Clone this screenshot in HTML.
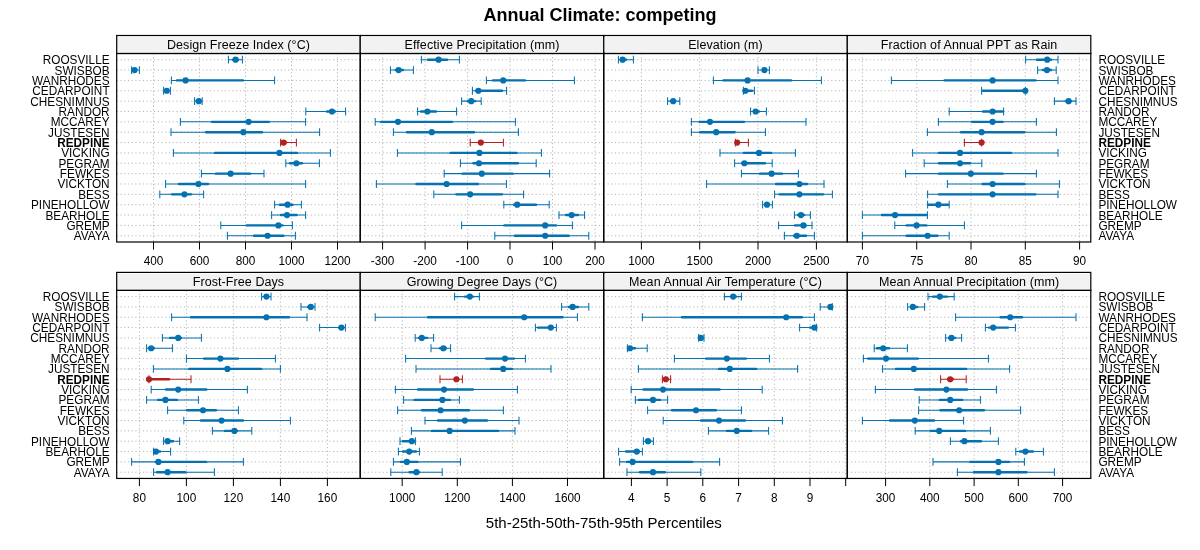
<!DOCTYPE html>
<html><head><meta charset="utf-8"><title>Annual Climate: competing</title>
<style>html,body{margin:0;padding:0;background:#fff}svg{display:block;will-change:transform}text{font-family:"Liberation Sans",sans-serif;fill:#000}</style></head><body>
<svg width="1200" height="550" viewBox="0 0 1200 550">
<rect width="1200" height="550" fill="#fff"/>
<text x="600" y="20.6" font-size="18" font-weight="bold" text-anchor="middle">Annual Climate: competing</text>
<text x="603.8" y="527.8" font-size="15" text-anchor="middle">5th-25th-50th-75th-95th Percentiles</text>
<text transform="translate(109.6 64) scale(1 1.1)" font-size="11.8" text-anchor="end">ROOSVILLE</text>
<text transform="translate(1098.4 64) scale(1 1.1)" font-size="11.8">ROOSVILLE</text>
<text transform="translate(109.6 75) scale(1 1.1)" font-size="11.8" text-anchor="end">SWISBOB</text>
<text transform="translate(1098.4 75) scale(1 1.1)" font-size="11.8">SWISBOB</text>
<text transform="translate(109.6 85) scale(1 1.1)" font-size="11.8" text-anchor="end">WANRHODES</text>
<text transform="translate(1098.4 85) scale(1 1.1)" font-size="11.8">WANRHODES</text>
<text transform="translate(109.6 95) scale(1 1.1)" font-size="11.8" text-anchor="end">CEDARPOINT</text>
<text transform="translate(1098.4 95) scale(1 1.1)" font-size="11.8">CEDARPOINT</text>
<text transform="translate(109.6 106) scale(1 1.1)" font-size="11.8" text-anchor="end">CHESNIMNUS</text>
<text transform="translate(1098.4 106) scale(1 1.1)" font-size="11.8">CHESNIMNUS</text>
<text transform="translate(109.6 116) scale(1 1.1)" font-size="11.8" text-anchor="end">RANDOR</text>
<text transform="translate(1098.4 116) scale(1 1.1)" font-size="11.8">RANDOR</text>
<text transform="translate(109.6 126) scale(1 1.1)" font-size="11.8" text-anchor="end">MCCAREY</text>
<text transform="translate(1098.4 126) scale(1 1.1)" font-size="11.8">MCCAREY</text>
<text transform="translate(109.6 137) scale(1 1.1)" font-size="11.8" text-anchor="end">JUSTESEN</text>
<text transform="translate(1098.4 137) scale(1 1.1)" font-size="11.8">JUSTESEN</text>
<text transform="translate(109.6 147) scale(1 1.1)" font-size="11.8" text-anchor="end" font-weight="bold">REDPINE</text>
<text transform="translate(1098.4 147) scale(1 1.1)" font-size="11.8" font-weight="bold">REDPINE</text>
<text transform="translate(109.6 157) scale(1 1.1)" font-size="11.8" text-anchor="end">VICKING</text>
<text transform="translate(1098.4 157) scale(1 1.1)" font-size="11.8">VICKING</text>
<text transform="translate(109.6 168) scale(1 1.1)" font-size="11.8" text-anchor="end">PEGRAM</text>
<text transform="translate(1098.4 168) scale(1 1.1)" font-size="11.8">PEGRAM</text>
<text transform="translate(109.6 178) scale(1 1.1)" font-size="11.8" text-anchor="end">FEWKES</text>
<text transform="translate(1098.4 178) scale(1 1.1)" font-size="11.8">FEWKES</text>
<text transform="translate(109.6 188) scale(1 1.1)" font-size="11.8" text-anchor="end">VICKTON</text>
<text transform="translate(1098.4 188) scale(1 1.1)" font-size="11.8">VICKTON</text>
<text transform="translate(109.6 199) scale(1 1.1)" font-size="11.8" text-anchor="end">BESS</text>
<text transform="translate(1098.4 199) scale(1 1.1)" font-size="11.8">BESS</text>
<text transform="translate(109.6 209) scale(1 1.1)" font-size="11.8" text-anchor="end">PINEHOLLOW</text>
<text transform="translate(1098.4 209) scale(1 1.1)" font-size="11.8">PINEHOLLOW</text>
<text transform="translate(109.6 220) scale(1 1.1)" font-size="11.8" text-anchor="end">BEARHOLE</text>
<text transform="translate(1098.4 220) scale(1 1.1)" font-size="11.8">BEARHOLE</text>
<text transform="translate(109.6 230) scale(1 1.1)" font-size="11.8" text-anchor="end">GREMP</text>
<text transform="translate(1098.4 230) scale(1 1.1)" font-size="11.8">GREMP</text>
<text transform="translate(109.6 240) scale(1 1.1)" font-size="11.8" text-anchor="end">AVAYA</text>
<text transform="translate(1098.4 240) scale(1 1.1)" font-size="11.8">AVAYA</text>
<rect x="116.7" y="37.1" width="243.52000000000004" height="14.90" fill="#F2F2F2"/><rect x="116.7" y="35.5" width="243.52" height="18.00" fill="none" stroke="#000" stroke-width="1.2"/>
<text x="238.46" y="48.90" font-size="12.5" letter-spacing="0.08" text-anchor="middle">Design Freeze Index (°C)</text>
<path d="M116.7 59.70H360.22M116.7 70.06H360.22M116.7 80.41H360.22M116.7 90.77H360.22M116.7 101.13H360.22M116.7 111.48H360.22M116.7 121.84H360.22M116.7 132.20H360.22M116.7 142.56H360.22M116.7 152.91H360.22M116.7 163.27H360.22M116.7 173.63H360.22M116.7 183.98H360.22M116.7 194.34H360.22M116.7 204.70H360.22M116.7 215.06H360.22M116.7 225.41H360.22M116.7 235.77H360.22M153.5 53.5V242.0M199.5 53.5V242.0M245.5 53.5V242.0M291.5 53.5V242.0M337.5 53.5V242.0" fill="none" stroke="#b4b4b4" stroke-width="1" stroke-dasharray="1.15 2.58"/>
<path d="M228.4 59.70H242.4M228.4 55.80V63.60M242.4 55.80V63.60M131.6 70.06H139.4M131.6 66.16V73.96M139.4 66.16V73.96M171.4 80.41H274.6M171.4 76.51V84.31M274.6 76.51V84.31M163.6 90.77H170.4M163.6 86.87V94.67M170.4 86.87V94.67M194.6 101.13H202.2M194.6 97.23V105.03M202.2 97.23V105.03M305.8 111.48H345.6M305.8 107.58V115.39M345.6 107.58V115.39M180.4 121.84H305.6M180.4 117.94V125.74M305.6 117.94V125.74M171 132.20H319.6M171 128.30V136.10M319.6 128.30V136.10M173.4 152.91H330.4M173.4 149.01V156.81M330.4 149.01V156.81M285.8 163.27H319.4M285.8 159.37V167.17M319.4 159.37V167.17M201.4 173.63H264M201.4 169.73V177.53M264 169.73V177.53M165.6 183.98H305.6M165.6 180.08V187.88M305.6 180.08V187.88M159.8 194.34H203.6M159.8 190.44V198.24M203.6 190.44V198.24M274.6 204.70H301.4M274.6 200.80V208.60M301.4 200.80V208.60M271.6 215.06H305.6M271.6 211.16V218.96M305.6 211.16V218.96M220.8 225.41H292.4M220.8 221.51V229.31M292.4 221.51V229.31M227.4 235.77H295.4M227.4 231.87V239.67M295.4 231.87V239.67" fill="none" stroke="#0571B0" stroke-width="1.05"/>
<path d="M233.00 59.70H238.00M134.00 70.06H135.00M177.00 80.41H243.00M166.00 90.77H167.50M198.00 101.13H199.50M327.00 111.48H335.00M212.00 121.84H269.00M206.00 132.20H262.00M215.00 152.91H297.00M290.00 163.27H302.00M216.00 173.63H250.00M179.00 183.98H208.00M172.00 194.34H191.00M280.00 204.70H292.60M281.00 215.06H296.60M246.60 225.41H282.60M254.00 235.77H283.40" fill="none" stroke="#0571B0" stroke-width="2.4" stroke-linecap="round"/>
<g fill="#0571B0"><circle cx="235.6" cy="59.70" r="3.1"/><circle cx="134.6" cy="70.06" r="3.1"/><circle cx="185.6" cy="80.41" r="3.1"/><circle cx="166.8" cy="90.77" r="3.1"/><circle cx="198.8" cy="101.13" r="3.1"/><circle cx="332" cy="111.48" r="3.1"/><circle cx="248.6" cy="121.84" r="3.1"/><circle cx="243.4" cy="132.20" r="3.1"/><circle cx="279.4" cy="152.91" r="3.1"/><circle cx="296.4" cy="163.27" r="3.1"/><circle cx="230.6" cy="173.63" r="3.1"/><circle cx="198.4" cy="183.98" r="3.1"/><circle cx="184.4" cy="194.34" r="3.1"/><circle cx="287.6" cy="204.70" r="3.1"/><circle cx="287" cy="215.06" r="3.1"/><circle cx="278.4" cy="225.41" r="3.1"/><circle cx="267.6" cy="235.77" r="3.1"/></g>
<path d="M280.6 142.56H296.4M280.6 138.66V146.46M296.4 138.66V146.46" fill="none" stroke="#B22222" stroke-width="1.05"/>
<path d="M282.50 142.56H286.00" fill="none" stroke="#B22222" stroke-width="2.4" stroke-linecap="round"/>
<g fill="#B22222"><circle cx="283.6" cy="142.56" r="3.1"/></g>
<rect x="116.7" y="53.5" width="243.52000000000004" height="188.5" fill="none" stroke="#000" stroke-width="1.2"/>
<text transform="translate(153.5 265.20) scale(1 1.1)" font-size="11.8" text-anchor="middle">400</text>
<text transform="translate(199.5 265.20) scale(1 1.1)" font-size="11.8" text-anchor="middle">600</text>
<text transform="translate(245.5 265.20) scale(1 1.1)" font-size="11.8" text-anchor="middle">800</text>
<text transform="translate(291.5 265.20) scale(1 1.1)" font-size="11.8" text-anchor="middle">1000</text>
<text transform="translate(337.5 265.20) scale(1 1.1)" font-size="11.8" text-anchor="middle">1200</text>
<path d="M153.5 242.0v7.6M199.5 242.0v7.6M245.5 242.0v7.6M291.5 242.0v7.6M337.5 242.0v7.6" fill="none" stroke="#000" stroke-width="1"/>
<rect x="360.22" y="37.1" width="243.52999999999997" height="14.90" fill="#F2F2F2"/><rect x="360.22" y="35.5" width="243.53" height="18.00" fill="none" stroke="#000" stroke-width="1.2"/>
<text x="481.99" y="48.90" font-size="12.5" letter-spacing="0.08" text-anchor="middle">Effective Precipitation (mm)</text>
<path d="M360.22 59.70H603.75M360.22 70.06H603.75M360.22 80.41H603.75M360.22 90.77H603.75M360.22 101.13H603.75M360.22 111.48H603.75M360.22 121.84H603.75M360.22 132.20H603.75M360.22 142.56H603.75M360.22 152.91H603.75M360.22 163.27H603.75M360.22 173.63H603.75M360.22 183.98H603.75M360.22 194.34H603.75M360.22 204.70H603.75M360.22 215.06H603.75M360.22 225.41H603.75M360.22 235.77H603.75M382.6 53.5V242.0M425.1 53.5V242.0M467.6 53.5V242.0M510.0 53.5V242.0M552.5 53.5V242.0M595.0 53.5V242.0" fill="none" stroke="#b4b4b4" stroke-width="1" stroke-dasharray="1.15 2.58"/>
<path d="M421.4 59.70H459.4M421.4 55.80V63.60M459.4 55.80V63.60M390.4 70.06H413.4M390.4 66.16V73.96M413.4 66.16V73.96M486.4 80.41H574.4M486.4 76.51V84.31M574.4 76.51V84.31M472.4 90.77H506.6M472.4 86.87V94.67M506.6 86.87V94.67M461.6 101.13H481.2M461.6 97.23V105.03M481.2 97.23V105.03M417.6 111.48H456.6M417.6 107.58V115.39M456.6 107.58V115.39M375.2 121.84H515.4M375.2 117.94V125.74M515.4 117.94V125.74M393.4 132.20H518.4M393.4 128.30V136.10M518.4 128.30V136.10M397.4 152.91H541.4M397.4 149.01V156.81M541.4 149.01V156.81M460.4 163.27H536.2M460.4 159.37V167.17M536.2 159.37V167.17M444.2 173.63H549.6M444.2 169.73V177.53M549.6 169.73V177.53M376.4 183.98H506.4M376.4 180.08V187.88M506.4 180.08V187.88M433.8 194.34H523.6M433.8 190.44V198.24M523.6 190.44V198.24M503.8 204.70H549.2M503.8 200.80V208.60M549.2 200.80V208.60M559 215.06H584.6M559 211.16V218.96M584.6 211.16V218.96M461.6 225.41H572.4M461.6 221.51V229.31M572.4 221.51V229.31M494.8 235.77H588.8M494.8 231.87V239.67M588.8 231.87V239.67" fill="none" stroke="#0571B0" stroke-width="1.05"/>
<path d="M428.00 59.70H447.00M396.00 70.06H403.00M493.00 80.41H525.00M476.00 90.77H502.00M468.00 101.13H475.00M421.00 111.48H436.00M381.00 121.84H452.00M407.00 132.20H474.00M450.60 152.91H516.40M473.40 163.27H518.00M462.60 173.63H512.60M416.40 183.98H478.00M456.40 194.34H502.00M514.00 204.70H536.00M566.00 215.06H578.00M504.40 225.41H556.00M515.00 235.77H568.60" fill="none" stroke="#0571B0" stroke-width="2.4" stroke-linecap="round"/>
<g fill="#0571B0"><circle cx="438.6" cy="59.70" r="3.1"/><circle cx="398.6" cy="70.06" r="3.1"/><circle cx="503.2" cy="80.41" r="3.1"/><circle cx="478.4" cy="90.77" r="3.1"/><circle cx="471.2" cy="101.13" r="3.1"/><circle cx="427.4" cy="111.48" r="3.1"/><circle cx="398" cy="121.84" r="3.1"/><circle cx="431.8" cy="132.20" r="3.1"/><circle cx="479.4" cy="152.91" r="3.1"/><circle cx="479" cy="163.27" r="3.1"/><circle cx="481.8" cy="173.63" r="3.1"/><circle cx="446.6" cy="183.98" r="3.1"/><circle cx="470.2" cy="194.34" r="3.1"/><circle cx="517.2" cy="204.70" r="3.1"/><circle cx="571.6" cy="215.06" r="3.1"/><circle cx="545.2" cy="225.41" r="3.1"/><circle cx="545.2" cy="235.77" r="3.1"/></g>
<path d="M470.2 142.56H503.4M470.2 138.66V146.46M503.4 138.66V146.46" fill="none" stroke="#B22222" stroke-width="1.05"/>
<path d="M480.00 142.56H482.00" fill="none" stroke="#B22222" stroke-width="2.4" stroke-linecap="round"/>
<g fill="#B22222"><circle cx="480.8" cy="142.56" r="3.1"/></g>
<rect x="360.22" y="53.5" width="243.52999999999997" height="188.5" fill="none" stroke="#000" stroke-width="1.2"/>
<text transform="translate(382.6 265.20) scale(1 1.1)" font-size="11.8" text-anchor="middle">-300</text>
<text transform="translate(425.1 265.20) scale(1 1.1)" font-size="11.8" text-anchor="middle">-200</text>
<text transform="translate(467.6 265.20) scale(1 1.1)" font-size="11.8" text-anchor="middle">-100</text>
<text transform="translate(510.0 265.20) scale(1 1.1)" font-size="11.8" text-anchor="middle">0</text>
<text transform="translate(552.5 265.20) scale(1 1.1)" font-size="11.8" text-anchor="middle">100</text>
<text transform="translate(595.0 265.20) scale(1 1.1)" font-size="11.8" text-anchor="middle">200</text>
<path d="M382.6 242.0v7.6M425.1 242.0v7.6M467.6 242.0v7.6M510.0 242.0v7.6M552.5 242.0v7.6M595.0 242.0v7.6" fill="none" stroke="#000" stroke-width="1"/>
<rect x="603.75" y="37.1" width="243.52999999999997" height="14.90" fill="#F2F2F2"/><rect x="603.75" y="35.5" width="243.53" height="18.00" fill="none" stroke="#000" stroke-width="1.2"/>
<text x="725.51" y="48.90" font-size="12.5" letter-spacing="0.08" text-anchor="middle">Elevation (m)</text>
<path d="M603.75 59.70H847.28M603.75 70.06H847.28M603.75 80.41H847.28M603.75 90.77H847.28M603.75 101.13H847.28M603.75 111.48H847.28M603.75 121.84H847.28M603.75 132.20H847.28M603.75 142.56H847.28M603.75 152.91H847.28M603.75 163.27H847.28M603.75 173.63H847.28M603.75 183.98H847.28M603.75 194.34H847.28M603.75 204.70H847.28M603.75 215.06H847.28M603.75 225.41H847.28M603.75 235.77H847.28M641.4 53.5V242.0M699.7 53.5V242.0M758.0 53.5V242.0M816.4 53.5V242.0" fill="none" stroke="#b4b4b4" stroke-width="1" stroke-dasharray="1.15 2.58"/>
<path d="M618.4 59.70H633.4M618.4 55.80V63.60M633.4 55.80V63.60M758 70.06H769.4M758 66.16V73.96M769.4 66.16V73.96M713.4 80.41H821.4M713.4 76.51V84.31M821.4 76.51V84.31M743.4 90.77H754.4M743.4 86.87V94.67M754.4 86.87V94.67M667.6 101.13H679.8M667.6 97.23V105.03M679.8 97.23V105.03M750.6 111.48H766.4M750.6 107.58V115.39M766.4 107.58V115.39M691.4 121.84H806M691.4 117.94V125.74M806 117.94V125.74M691.4 132.20H765.4M691.4 128.30V136.10M765.4 128.30V136.10M720 152.91H795.4M720 149.01V156.81M795.4 149.01V156.81M734.6 163.27H772.2M734.6 159.37V167.17M772.2 159.37V167.17M741.4 173.63H798.4M741.4 169.73V177.53M798.4 169.73V177.53M706.6 183.98H824M706.6 180.08V187.88M824 180.08V187.88M774.6 194.34H832.4M774.6 190.44V198.24M832.4 190.44V198.24M762.6 204.70H772.4M762.6 200.80V208.60M772.4 200.80V208.60M794.4 215.06H810.4M794.4 211.16V218.96M810.4 211.16V218.96M778.6 225.41H812M778.6 221.51V229.31M812 221.51V229.31M784.4 235.77H814.4M784.4 231.87V239.67M814.4 231.87V239.67" fill="none" stroke="#0571B0" stroke-width="1.05"/>
<path d="M621.00 59.70H626.00M763.00 70.06H766.00M723.40 80.41H791.00M745.00 90.77H752.00M671.00 101.13H675.00M754.00 111.48H759.00M699.60 121.84H744.00M700.00 132.20H734.60M744.00 152.91H771.00M742.00 163.27H765.00M760.00 173.63H782.00M776.00 183.98H807.00M779.60 194.34H823.00M765.40 204.70H769.00M798.00 215.06H804.00M795.00 225.41H806.00M794.00 235.77H806.00" fill="none" stroke="#0571B0" stroke-width="2.4" stroke-linecap="round"/>
<g fill="#0571B0"><circle cx="622.6" cy="59.70" r="3.1"/><circle cx="764.4" cy="70.06" r="3.1"/><circle cx="747.6" cy="80.41" r="3.1"/><circle cx="745.4" cy="90.77" r="3.1"/><circle cx="673.2" cy="101.13" r="3.1"/><circle cx="755.6" cy="111.48" r="3.1"/><circle cx="710" cy="121.84" r="3.1"/><circle cx="716.2" cy="132.20" r="3.1"/><circle cx="759" cy="152.91" r="3.1"/><circle cx="744.4" cy="163.27" r="3.1"/><circle cx="771.6" cy="173.63" r="3.1"/><circle cx="799.4" cy="183.98" r="3.1"/><circle cx="799.4" cy="194.34" r="3.1"/><circle cx="767" cy="204.70" r="3.1"/><circle cx="801" cy="215.06" r="3.1"/><circle cx="803.4" cy="225.41" r="3.1"/><circle cx="796.8" cy="235.77" r="3.1"/></g>
<path d="M735.4 142.56H748.4M735.4 138.66V146.46M748.4 138.66V146.46" fill="none" stroke="#B22222" stroke-width="1.05"/>
<path d="M737.00 142.56H739.00" fill="none" stroke="#B22222" stroke-width="2.4" stroke-linecap="round"/>
<g fill="#B22222"><circle cx="737.2" cy="142.56" r="3.1"/></g>
<rect x="603.75" y="53.5" width="243.52999999999997" height="188.5" fill="none" stroke="#000" stroke-width="1.2"/>
<text transform="translate(641.4 265.20) scale(1 1.1)" font-size="11.8" text-anchor="middle">1000</text>
<text transform="translate(699.7 265.20) scale(1 1.1)" font-size="11.8" text-anchor="middle">1500</text>
<text transform="translate(758.0 265.20) scale(1 1.1)" font-size="11.8" text-anchor="middle">2000</text>
<text transform="translate(816.4 265.20) scale(1 1.1)" font-size="11.8" text-anchor="middle">2500</text>
<path d="M641.4 242.0v7.6M699.7 242.0v7.6M758.0 242.0v7.6M816.4 242.0v7.6" fill="none" stroke="#000" stroke-width="1"/>
<rect x="847.28" y="37.1" width="243.51999999999998" height="14.90" fill="#F2F2F2"/><rect x="847.28" y="35.5" width="243.52" height="18.00" fill="none" stroke="#000" stroke-width="1.2"/>
<text x="969.04" y="48.90" font-size="12.5" letter-spacing="0.08" text-anchor="middle">Fraction of Annual PPT as Rain</text>
<path d="M847.28 59.70H1090.8M847.28 70.06H1090.8M847.28 80.41H1090.8M847.28 90.77H1090.8M847.28 101.13H1090.8M847.28 111.48H1090.8M847.28 121.84H1090.8M847.28 132.20H1090.8M847.28 142.56H1090.8M847.28 152.91H1090.8M847.28 163.27H1090.8M847.28 173.63H1090.8M847.28 183.98H1090.8M847.28 194.34H1090.8M847.28 204.70H1090.8M847.28 215.06H1090.8M847.28 225.41H1090.8M847.28 235.77H1090.8M862.4 53.5V242.0M916.7 53.5V242.0M971.0 53.5V242.0M1025.3 53.5V242.0M1079.6 53.5V242.0" fill="none" stroke="#b4b4b4" stroke-width="1" stroke-dasharray="1.15 2.58"/>
<path d="M1025.6 59.70H1058M1025.6 55.80V63.60M1058 55.80V63.60M1037.6 70.06H1056.2M1037.6 66.16V73.96M1056.2 66.16V73.96M891.4 80.41H1058M891.4 76.51V84.31M1058 76.51V84.31M981.6 90.77H1025.4M981.6 86.87V94.67M1025.4 86.87V94.67M1054.4 101.13H1076M1054.4 97.23V105.03M1076 97.23V105.03M949.2 111.48H1003.6M949.2 107.58V115.39M1003.6 107.58V115.39M938.4 121.84H1036.4M938.4 117.94V125.74M1036.4 117.94V125.74M927.4 132.20H1056.4M927.4 128.30V136.10M1056.4 128.30V136.10M912.6 152.91H1058M912.6 149.01V156.81M1058 149.01V156.81M924.2 163.27H981.8M924.2 159.37V167.17M981.8 159.37V167.17M905.6 173.63H1036.4M905.6 169.73V177.53M1036.4 169.73V177.53M947.4 183.98H1059.4M947.4 180.08V187.88M1059.4 180.08V187.88M927.6 194.34H1058M927.6 190.44V198.24M1058 190.44V198.24M927.6 204.70H949.2M927.6 200.80V208.60M949.2 200.80V208.60M862.4 215.06H927.4M862.4 211.16V218.96M927.4 211.16V218.96M894.8 225.41H964.4M894.8 221.51V229.31M964.4 221.51V229.31M862.4 235.77H949.2M862.4 231.87V239.67M949.2 231.87V239.67" fill="none" stroke="#0571B0" stroke-width="1.05"/>
<path d="M1037.00 59.70H1051.00M1043.00 70.06H1051.00M944.60 80.41H1035.60M983.00 90.77H1024.40M1066.00 101.13H1071.00M983.00 111.48H1002.60M972.00 121.84H1002.60M961.00 132.20H1024.40M939.00 152.91H1011.00M939.00 163.27H970.00M939.00 173.63H1002.60M982.60 183.98H1024.40M939.00 194.34H1035.40M928.60 204.70H948.20M882.00 215.06H926.40M906.60 225.41H926.40M906.60 235.77H937.40" fill="none" stroke="#0571B0" stroke-width="2.4" stroke-linecap="round"/>
<g fill="#0571B0"><circle cx="1047.2" cy="59.70" r="3.1"/><circle cx="1047" cy="70.06" r="3.1"/><circle cx="992.6" cy="80.41" r="3.1"/><circle cx="1025.4" cy="90.77" r="3.1"/><circle cx="1068.6" cy="101.13" r="3.1"/><circle cx="992.6" cy="111.48" r="3.1"/><circle cx="992.6" cy="121.84" r="3.1"/><circle cx="981.6" cy="132.20" r="3.1"/><circle cx="960" cy="152.91" r="3.1"/><circle cx="960" cy="163.27" r="3.1"/><circle cx="970.8" cy="173.63" r="3.1"/><circle cx="992.6" cy="183.98" r="3.1"/><circle cx="992.6" cy="194.34" r="3.1"/><circle cx="938.4" cy="204.70" r="3.1"/><circle cx="895" cy="215.06" r="3.1"/><circle cx="916.6" cy="225.41" r="3.1"/><circle cx="927.6" cy="235.77" r="3.1"/></g>
<path d="M964.4 142.56H981.6M964.4 138.66V146.46M981.6 138.66V146.46" fill="none" stroke="#B22222" stroke-width="1.05"/>
<g fill="#B22222"><circle cx="981.6" cy="142.56" r="3.1"/></g>
<rect x="847.28" y="53.5" width="243.51999999999998" height="188.5" fill="none" stroke="#000" stroke-width="1.2"/>
<text transform="translate(862.4 265.20) scale(1 1.1)" font-size="11.8" text-anchor="middle">70</text>
<text transform="translate(916.7 265.20) scale(1 1.1)" font-size="11.8" text-anchor="middle">75</text>
<text transform="translate(971.0 265.20) scale(1 1.1)" font-size="11.8" text-anchor="middle">80</text>
<text transform="translate(1025.3 265.20) scale(1 1.1)" font-size="11.8" text-anchor="middle">85</text>
<text transform="translate(1079.6 265.20) scale(1 1.1)" font-size="11.8" text-anchor="middle">90</text>
<path d="M862.4 242.0v7.6M916.7 242.0v7.6M971.0 242.0v7.6M1025.3 242.0v7.6M1079.6 242.0v7.6" fill="none" stroke="#000" stroke-width="1"/>
<text transform="translate(109.6 301) scale(1 1.1)" font-size="11.8" text-anchor="end">ROOSVILLE</text>
<text transform="translate(1098.4 301) scale(1 1.1)" font-size="11.8">ROOSVILLE</text>
<text transform="translate(109.6 311) scale(1 1.1)" font-size="11.8" text-anchor="end">SWISBOB</text>
<text transform="translate(1098.4 311) scale(1 1.1)" font-size="11.8">SWISBOB</text>
<text transform="translate(109.6 322) scale(1 1.1)" font-size="11.8" text-anchor="end">WANRHODES</text>
<text transform="translate(1098.4 322) scale(1 1.1)" font-size="11.8">WANRHODES</text>
<text transform="translate(109.6 332) scale(1 1.1)" font-size="11.8" text-anchor="end">CEDARPOINT</text>
<text transform="translate(1098.4 332) scale(1 1.1)" font-size="11.8">CEDARPOINT</text>
<text transform="translate(109.6 342) scale(1 1.1)" font-size="11.8" text-anchor="end">CHESNIMNUS</text>
<text transform="translate(1098.4 342) scale(1 1.1)" font-size="11.8">CHESNIMNUS</text>
<text transform="translate(109.6 353) scale(1 1.1)" font-size="11.8" text-anchor="end">RANDOR</text>
<text transform="translate(1098.4 353) scale(1 1.1)" font-size="11.8">RANDOR</text>
<text transform="translate(109.6 363) scale(1 1.1)" font-size="11.8" text-anchor="end">MCCAREY</text>
<text transform="translate(1098.4 363) scale(1 1.1)" font-size="11.8">MCCAREY</text>
<text transform="translate(109.6 373) scale(1 1.1)" font-size="11.8" text-anchor="end">JUSTESEN</text>
<text transform="translate(1098.4 373) scale(1 1.1)" font-size="11.8">JUSTESEN</text>
<text transform="translate(109.6 384) scale(1 1.1)" font-size="11.8" text-anchor="end" font-weight="bold">REDPINE</text>
<text transform="translate(1098.4 384) scale(1 1.1)" font-size="11.8" font-weight="bold">REDPINE</text>
<text transform="translate(109.6 394) scale(1 1.1)" font-size="11.8" text-anchor="end">VICKING</text>
<text transform="translate(1098.4 394) scale(1 1.1)" font-size="11.8">VICKING</text>
<text transform="translate(109.6 404) scale(1 1.1)" font-size="11.8" text-anchor="end">PEGRAM</text>
<text transform="translate(1098.4 404) scale(1 1.1)" font-size="11.8">PEGRAM</text>
<text transform="translate(109.6 415) scale(1 1.1)" font-size="11.8" text-anchor="end">FEWKES</text>
<text transform="translate(1098.4 415) scale(1 1.1)" font-size="11.8">FEWKES</text>
<text transform="translate(109.6 425) scale(1 1.1)" font-size="11.8" text-anchor="end">VICKTON</text>
<text transform="translate(1098.4 425) scale(1 1.1)" font-size="11.8">VICKTON</text>
<text transform="translate(109.6 435) scale(1 1.1)" font-size="11.8" text-anchor="end">BESS</text>
<text transform="translate(1098.4 435) scale(1 1.1)" font-size="11.8">BESS</text>
<text transform="translate(109.6 446) scale(1 1.1)" font-size="11.8" text-anchor="end">PINEHOLLOW</text>
<text transform="translate(1098.4 446) scale(1 1.1)" font-size="11.8">PINEHOLLOW</text>
<text transform="translate(109.6 456) scale(1 1.1)" font-size="11.8" text-anchor="end">BEARHOLE</text>
<text transform="translate(1098.4 456) scale(1 1.1)" font-size="11.8">BEARHOLE</text>
<text transform="translate(109.6 466) scale(1 1.1)" font-size="11.8" text-anchor="end">GREMP</text>
<text transform="translate(1098.4 466) scale(1 1.1)" font-size="11.8">GREMP</text>
<text transform="translate(109.6 477) scale(1 1.1)" font-size="11.8" text-anchor="end">AVAYA</text>
<text transform="translate(1098.4 477) scale(1 1.1)" font-size="11.8">AVAYA</text>
<rect x="116.7" y="274.0" width="243.52000000000004" height="14.90" fill="#F2F2F2"/><rect x="116.7" y="272.4" width="243.52" height="18.00" fill="none" stroke="#000" stroke-width="1.2"/>
<text x="238.46" y="285.80" font-size="12.5" letter-spacing="0.08" text-anchor="middle">Frost-Free Days</text>
<path d="M116.7 296.60H360.22M116.7 306.93H360.22M116.7 317.26H360.22M116.7 327.59H360.22M116.7 337.92H360.22M116.7 348.25H360.22M116.7 358.58H360.22M116.7 368.91H360.22M116.7 379.24H360.22M116.7 389.57H360.22M116.7 399.90H360.22M116.7 410.23H360.22M116.7 420.56H360.22M116.7 430.89H360.22M116.7 441.22H360.22M116.7 451.55H360.22M116.7 461.88H360.22M116.7 472.21H360.22M139.4 290.4V478.45M186.4 290.4V478.45M233.4 290.4V478.45M280.4 290.4V478.45M327.4 290.4V478.45" fill="none" stroke="#b4b4b4" stroke-width="1" stroke-dasharray="1.15 2.58"/>
<path d="M261.6 296.60H271M261.6 292.70V300.50M271 292.70V300.50M301 306.93H315M301 303.03V310.83M315 303.03V310.83M171.6 317.26H307M171.6 313.36V321.16M307 313.36V321.16M319.6 327.59H345.4M319.6 323.69V331.49M345.4 323.69V331.49M162.4 337.92H201.4M162.4 334.02V341.82M201.4 334.02V341.82M146.6 348.25H172.4M146.6 344.35V352.15M172.4 344.35V352.15M186.4 358.58H275.4M186.4 354.68V362.48M275.4 354.68V362.48M153.4 368.91H280.4M153.4 365.01V372.81M280.4 365.01V372.81M151.2 389.57H247.4M151.2 385.67V393.47M247.4 385.67V393.47M146.6 399.90H198.4M146.6 396.00V403.80M198.4 396.00V403.80M167.6 410.23H238.4M167.6 406.33V414.13M238.4 406.33V414.13M183.8 420.56H290.4M183.8 416.66V424.46M290.4 416.66V424.46M212.4 430.89H251.8M212.4 426.99V434.79M251.8 426.99V434.79M163.6 441.22H179.6M163.6 437.32V445.12M179.6 437.32V445.12M153.6 451.55H170.6M153.6 447.65V455.45M170.6 447.65V455.45M131.6 461.88H243.4M131.6 457.98V465.78M243.4 457.98V465.78M153.6 472.21H214.4M153.6 468.31V476.11M214.4 468.31V476.11" fill="none" stroke="#0571B0" stroke-width="1.05"/>
<path d="M265.00 296.60H268.00M308.00 306.93H312.60M191.00 317.26H289.00M339.00 327.59H343.00M170.00 337.92H181.00M149.00 348.25H154.00M204.00 358.58H238.00M189.40 368.91H261.00M166.00 389.57H206.40M158.00 399.90H177.00M187.00 410.23H216.00M201.00 420.56H243.00M225.00 430.89H237.00M166.00 441.22H173.00M155.00 451.55H160.00M156.00 461.88H206.00M157.00 472.21H185.40" fill="none" stroke="#0571B0" stroke-width="2.4" stroke-linecap="round"/>
<g fill="#0571B0"><circle cx="266.4" cy="296.60" r="3.1"/><circle cx="310.8" cy="306.93" r="3.1"/><circle cx="266.4" cy="317.26" r="3.1"/><circle cx="341.4" cy="327.59" r="3.1"/><circle cx="178.2" cy="337.92" r="3.1"/><circle cx="151.2" cy="348.25" r="3.1"/><circle cx="220.4" cy="358.58" r="3.1"/><circle cx="227.4" cy="368.91" r="3.1"/><circle cx="178.2" cy="389.57" r="3.1"/><circle cx="165.4" cy="399.90" r="3.1"/><circle cx="203" cy="410.23" r="3.1"/><circle cx="221.6" cy="420.56" r="3.1"/><circle cx="234.4" cy="430.89" r="3.1"/><circle cx="167.6" cy="441.22" r="3.1"/><circle cx="156" cy="451.55" r="3.1"/><circle cx="158.4" cy="461.88" r="3.1"/><circle cx="167.6" cy="472.21" r="3.1"/></g>
<path d="M149 379.24H191M149 375.34V383.14M191 375.34V383.14" fill="none" stroke="#B22222" stroke-width="1.05"/>
<path d="M150.00 379.24H169.00" fill="none" stroke="#B22222" stroke-width="2.4" stroke-linecap="round"/>
<g fill="#B22222"><circle cx="149" cy="379.24" r="3.1"/></g>
<rect x="116.7" y="290.4" width="243.52000000000004" height="188.05" fill="none" stroke="#000" stroke-width="1.2"/>
<text transform="translate(139.4 501.65) scale(1 1.1)" font-size="11.8" text-anchor="middle">80</text>
<text transform="translate(186.4 501.65) scale(1 1.1)" font-size="11.8" text-anchor="middle">100</text>
<text transform="translate(233.4 501.65) scale(1 1.1)" font-size="11.8" text-anchor="middle">120</text>
<text transform="translate(280.4 501.65) scale(1 1.1)" font-size="11.8" text-anchor="middle">140</text>
<text transform="translate(327.4 501.65) scale(1 1.1)" font-size="11.8" text-anchor="middle">160</text>
<path d="M139.4 478.45v7.6M186.4 478.45v7.6M233.4 478.45v7.6M280.4 478.45v7.6M327.4 478.45v7.6" fill="none" stroke="#000" stroke-width="1"/>
<rect x="360.22" y="274.0" width="243.52999999999997" height="14.90" fill="#F2F2F2"/><rect x="360.22" y="272.4" width="243.53" height="18.00" fill="none" stroke="#000" stroke-width="1.2"/>
<text x="481.99" y="285.80" font-size="12.5" letter-spacing="0.08" text-anchor="middle">Growing Degree Days (°C)</text>
<path d="M360.22 296.60H603.75M360.22 306.93H603.75M360.22 317.26H603.75M360.22 327.59H603.75M360.22 337.92H603.75M360.22 348.25H603.75M360.22 358.58H603.75M360.22 368.91H603.75M360.22 379.24H603.75M360.22 389.57H603.75M360.22 399.90H603.75M360.22 410.23H603.75M360.22 420.56H603.75M360.22 430.89H603.75M360.22 441.22H603.75M360.22 451.55H603.75M360.22 461.88H603.75M360.22 472.21H603.75M402.2 290.4V478.45M457.3 290.4V478.45M512.4 290.4V478.45M567.5 290.4V478.45" fill="none" stroke="#b4b4b4" stroke-width="1" stroke-dasharray="1.15 2.58"/>
<path d="M454.6 296.60H479.4M454.6 292.70V300.50M479.4 292.70V300.50M561.6 306.93H588.8M561.6 303.03V310.83M588.8 303.03V310.83M375.2 317.26H577.4M375.2 313.36V321.16M577.4 313.36V321.16M535.4 327.59H556.4M535.4 323.69V331.49M556.4 323.69V331.49M415.2 337.92H433.6M415.2 334.02V341.82M433.6 334.02V341.82M431 348.25H450.6M431 344.35V352.15M450.6 344.35V352.15M405.6 358.58H525.4M405.6 354.68V362.48M525.4 354.68V362.48M416 368.91H551M416 365.01V372.81M551 365.01V372.81M395.4 389.57H517.4M395.4 385.67V393.47M517.4 385.67V393.47M403.6 399.90H459.4M403.6 396.00V403.80M459.4 396.00V403.80M397.6 410.23H503.4M397.6 406.33V414.13M503.4 406.33V414.13M425 420.56H519M425 416.66V424.46M519 416.66V424.46M411.4 430.89H515M411.4 426.99V434.79M515 426.99V434.79M400 441.22H415.4M400 437.32V445.12M415.4 437.32V445.12M398.4 451.55H419.4M398.4 447.65V455.45M419.4 447.65V455.45M393.4 461.88H460.4M393.4 457.98V465.78M460.4 457.98V465.78M390.8 472.21H442.2M390.8 468.31V476.11M442.2 468.31V476.11" fill="none" stroke="#0571B0" stroke-width="1.05"/>
<path d="M465.00 296.60H473.00M569.00 306.93H578.00M428.00 317.26H562.60M538.00 327.59H553.00M419.00 337.92H427.00M440.00 348.25H446.00M486.00 358.58H514.00M491.00 368.91H512.00M418.00 389.57H473.00M414.60 399.90H450.00M422.00 410.23H469.00M438.00 420.56H487.00M432.00 430.89H498.00M403.00 441.22H414.00M403.00 451.55H416.00M401.00 461.88H417.40M409.60 472.21H419.00" fill="none" stroke="#0571B0" stroke-width="2.4" stroke-linecap="round"/>
<g fill="#0571B0"><circle cx="469.8" cy="296.60" r="3.1"/><circle cx="572.6" cy="306.93" r="3.1"/><circle cx="524.2" cy="317.26" r="3.1"/><circle cx="550.8" cy="327.59" r="3.1"/><circle cx="421.8" cy="337.92" r="3.1"/><circle cx="443.4" cy="348.25" r="3.1"/><circle cx="505" cy="358.58" r="3.1"/><circle cx="503.2" cy="368.91" r="3.1"/><circle cx="444" cy="389.57" r="3.1"/><circle cx="442.4" cy="399.90" r="3.1"/><circle cx="440.6" cy="410.23" r="3.1"/><circle cx="464.8" cy="420.56" r="3.1"/><circle cx="449.6" cy="430.89" r="3.1"/><circle cx="411.8" cy="441.22" r="3.1"/><circle cx="409.2" cy="451.55" r="3.1"/><circle cx="406.8" cy="461.88" r="3.1"/><circle cx="416.4" cy="472.21" r="3.1"/></g>
<path d="M440 379.24H462.4M440 375.34V383.14M462.4 375.34V383.14" fill="none" stroke="#B22222" stroke-width="1.05"/>
<path d="M455.00 379.24H458.00" fill="none" stroke="#B22222" stroke-width="2.4" stroke-linecap="round"/>
<g fill="#B22222"><circle cx="456.4" cy="379.24" r="3.1"/></g>
<rect x="360.22" y="290.4" width="243.52999999999997" height="188.05" fill="none" stroke="#000" stroke-width="1.2"/>
<text transform="translate(402.2 501.65) scale(1 1.1)" font-size="11.8" text-anchor="middle">1000</text>
<text transform="translate(457.3 501.65) scale(1 1.1)" font-size="11.8" text-anchor="middle">1200</text>
<text transform="translate(512.4 501.65) scale(1 1.1)" font-size="11.8" text-anchor="middle">1400</text>
<text transform="translate(567.5 501.65) scale(1 1.1)" font-size="11.8" text-anchor="middle">1600</text>
<path d="M402.2 478.45v7.6M457.3 478.45v7.6M512.4 478.45v7.6M567.5 478.45v7.6" fill="none" stroke="#000" stroke-width="1"/>
<rect x="603.75" y="274.0" width="243.52999999999997" height="14.90" fill="#F2F2F2"/><rect x="603.75" y="272.4" width="243.53" height="18.00" fill="none" stroke="#000" stroke-width="1.2"/>
<text x="725.51" y="285.80" font-size="12.5" letter-spacing="0.08" text-anchor="middle">Mean Annual Air Temperature (°C)</text>
<path d="M603.75 296.60H847.28M603.75 306.93H847.28M603.75 317.26H847.28M603.75 327.59H847.28M603.75 337.92H847.28M603.75 348.25H847.28M603.75 358.58H847.28M603.75 368.91H847.28M603.75 379.24H847.28M603.75 389.57H847.28M603.75 399.90H847.28M603.75 410.23H847.28M603.75 420.56H847.28M603.75 430.89H847.28M603.75 441.22H847.28M603.75 451.55H847.28M603.75 461.88H847.28M603.75 472.21H847.28M631.4 290.4V478.45M667.1 290.4V478.45M702.8 290.4V478.45M738.6 290.4V478.45M774.3 290.4V478.45M810.0 290.4V478.45M845.7 290.4V478.45" fill="none" stroke="#b4b4b4" stroke-width="1" stroke-dasharray="1.15 2.58"/>
<path d="M724.4 296.60H741.4M724.4 292.70V300.50M741.4 292.70V300.50M820.2 306.93H832.2M820.2 303.03V310.83M832.2 303.03V310.83M642.4 317.26H814.4M642.4 313.36V321.16M814.4 313.36V321.16M799.6 327.59H816.6M799.6 323.69V331.49M816.6 323.69V331.49M698.6 337.92H704M698.6 334.02V341.82M704 334.02V341.82M627.4 348.25H647.2M627.4 344.35V352.15M647.2 344.35V352.15M674.4 358.58H769.4M674.4 354.68V362.48M769.4 354.68V362.48M638.4 368.91H797.6M638.4 365.01V372.81M797.6 365.01V372.81M631.2 389.57H762.2M631.2 385.67V393.47M762.2 385.67V393.47M635.4 399.90H667.6M635.4 396.00V403.80M667.6 396.00V403.80M647.6 410.23H741.4M647.6 406.33V414.13M741.4 406.33V414.13M663.2 420.56H782.4M663.2 416.66V424.46M782.4 416.66V424.46M708.4 430.89H768.6M708.4 426.99V434.79M768.6 426.99V434.79M643.4 441.22H653.4M643.4 437.32V445.12M653.4 437.32V445.12M618.6 451.55H642.4M618.6 447.65V455.45M642.4 447.65V455.45M619.6 461.88H719.6M619.6 457.98V465.78M719.6 457.98V465.78M627 472.21H700.8M627 468.31V476.11M700.8 468.31V476.11" fill="none" stroke="#0571B0" stroke-width="1.05"/>
<path d="M731.00 296.60H736.00M829.00 306.93H830.50M682.00 317.26H802.00M810.00 327.59H815.00M700.00 337.92H702.40M629.00 348.25H635.00M706.00 358.58H746.00M719.00 368.91H756.00M643.60 389.57H719.60M639.00 399.90H660.00M672.00 410.23H716.00M701.00 420.56H745.00M727.00 430.89H751.00M646.00 441.22H650.40M626.00 451.55H639.00M627.00 461.88H692.00M640.00 472.21H665.00" fill="none" stroke="#0571B0" stroke-width="2.4" stroke-linecap="round"/>
<g fill="#0571B0"><circle cx="733.2" cy="296.60" r="3.1"/><circle cx="830.4" cy="306.93" r="3.1"/><circle cx="786.2" cy="317.26" r="3.1"/><circle cx="814.4" cy="327.59" r="3.1"/><circle cx="700.8" cy="337.92" r="3.1"/><circle cx="630" cy="348.25" r="3.1"/><circle cx="726.8" cy="358.58" r="3.1"/><circle cx="729.8" cy="368.91" r="3.1"/><circle cx="663" cy="389.57" r="3.1"/><circle cx="653" cy="399.90" r="3.1"/><circle cx="696" cy="410.23" r="3.1"/><circle cx="719" cy="420.56" r="3.1"/><circle cx="736.8" cy="430.89" r="3.1"/><circle cx="648" cy="441.22" r="3.1"/><circle cx="636.8" cy="451.55" r="3.1"/><circle cx="632.6" cy="461.88" r="3.1"/><circle cx="653" cy="472.21" r="3.1"/></g>
<path d="M662.4 379.24H670.6M662.4 375.34V383.14M670.6 375.34V383.14" fill="none" stroke="#B22222" stroke-width="1.05"/>
<path d="M664.40 379.24H668.00" fill="none" stroke="#B22222" stroke-width="2.4" stroke-linecap="round"/>
<g fill="#B22222"><circle cx="665.8" cy="379.24" r="3.1"/></g>
<rect x="603.75" y="290.4" width="243.52999999999997" height="188.05" fill="none" stroke="#000" stroke-width="1.2"/>
<text transform="translate(631.4 501.65) scale(1 1.1)" font-size="11.8" text-anchor="middle">4</text>
<text transform="translate(667.1 501.65) scale(1 1.1)" font-size="11.8" text-anchor="middle">5</text>
<text transform="translate(702.8 501.65) scale(1 1.1)" font-size="11.8" text-anchor="middle">6</text>
<text transform="translate(738.6 501.65) scale(1 1.1)" font-size="11.8" text-anchor="middle">7</text>
<text transform="translate(774.3 501.65) scale(1 1.1)" font-size="11.8" text-anchor="middle">8</text>
<text transform="translate(810.0 501.65) scale(1 1.1)" font-size="11.8" text-anchor="middle">9</text>
<path d="M631.4 478.45v7.6M667.1 478.45v7.6M702.8 478.45v7.6M738.6 478.45v7.6M774.3 478.45v7.6M810.0 478.45v7.6M845.7 478.45v7.6" fill="none" stroke="#000" stroke-width="1"/>
<rect x="847.28" y="274.0" width="243.51999999999998" height="14.90" fill="#F2F2F2"/><rect x="847.28" y="272.4" width="243.52" height="18.00" fill="none" stroke="#000" stroke-width="1.2"/>
<text x="969.04" y="285.80" font-size="12.5" letter-spacing="0.08" text-anchor="middle">Mean Annual Precipitation (mm)</text>
<path d="M847.28 296.60H1090.8M847.28 306.93H1090.8M847.28 317.26H1090.8M847.28 327.59H1090.8M847.28 337.92H1090.8M847.28 348.25H1090.8M847.28 358.58H1090.8M847.28 368.91H1090.8M847.28 379.24H1090.8M847.28 389.57H1090.8M847.28 399.90H1090.8M847.28 410.23H1090.8M847.28 420.56H1090.8M847.28 430.89H1090.8M847.28 441.22H1090.8M847.28 451.55H1090.8M847.28 461.88H1090.8M847.28 472.21H1090.8M885.6 290.4V478.45M929.8 290.4V478.45M974.1 290.4V478.45M1018.3 290.4V478.45M1062.6 290.4V478.45" fill="none" stroke="#b4b4b4" stroke-width="1" stroke-dasharray="1.15 2.58"/>
<path d="M928 296.60H954.2M928 292.70V300.50M954.2 292.70V300.50M907.6 306.93H924.6M907.6 303.03V310.83M924.6 303.03V310.83M955.6 317.26H1076M955.6 313.36V321.16M1076 313.36V321.16M985.4 327.59H1015.4M985.4 323.69V331.49M1015.4 323.69V331.49M945.6 337.92H961.6M945.6 334.02V341.82M961.6 334.02V341.82M874.2 348.25H907.4M874.2 344.35V352.15M907.4 344.35V352.15M863.4 358.58H988.4M863.4 354.68V362.48M988.4 354.68V362.48M882.6 368.91H1009.6M882.6 365.01V372.81M1009.6 365.01V372.81M875.4 389.57H996.4M875.4 385.67V393.47M996.4 385.67V393.47M919.2 399.90H980.4M919.2 396.00V403.80M980.4 396.00V403.80M918.6 410.23H1020.6M918.6 406.33V414.13M1020.6 406.33V414.13M862.4 420.56H963.6M862.4 416.66V424.46M963.6 416.66V424.46M915.2 430.89H990.4M915.2 426.99V434.79M990.4 426.99V434.79M950.4 441.22H998.4M950.4 437.32V445.12M998.4 437.32V445.12M1015.8 451.55H1043.4M1015.8 447.65V455.45M1043.4 447.65V455.45M933 461.88H1024.4M933 457.98V465.78M1024.4 457.98V465.78M957.4 472.21H1054.4M957.4 468.31V476.11M1054.4 468.31V476.11" fill="none" stroke="#0571B0" stroke-width="1.05"/>
<path d="M933.00 296.60H947.00M911.00 306.93H917.00M1000.60 317.26H1022.00M989.00 327.59H1008.00M949.00 337.92H955.00M877.00 348.25H889.00M868.00 358.58H918.00M896.00 368.91H966.00M915.00 389.57H967.00M940.00 399.90H962.00M940.40 410.23H984.00M890.00 420.56H934.00M931.00 430.89H965.00M961.00 441.22H981.00M1020.00 451.55H1033.00M970.40 461.88H1009.00M974.00 472.21H1026.60" fill="none" stroke="#0571B0" stroke-width="2.4" stroke-linecap="round"/>
<g fill="#0571B0"><circle cx="939.8" cy="296.60" r="3.1"/><circle cx="912.8" cy="306.93" r="3.1"/><circle cx="1010.2" cy="317.26" r="3.1"/><circle cx="993.2" cy="327.59" r="3.1"/><circle cx="951.4" cy="337.92" r="3.1"/><circle cx="883.2" cy="348.25" r="3.1"/><circle cx="886" cy="358.58" r="3.1"/><circle cx="913.8" cy="368.91" r="3.1"/><circle cx="946.4" cy="389.57" r="3.1"/><circle cx="950.2" cy="399.90" r="3.1"/><circle cx="959.2" cy="410.23" r="3.1"/><circle cx="914.8" cy="420.56" r="3.1"/><circle cx="939.2" cy="430.89" r="3.1"/><circle cx="964.4" cy="441.22" r="3.1"/><circle cx="1025.4" cy="451.55" r="3.1"/><circle cx="998.4" cy="461.88" r="3.1"/><circle cx="998.4" cy="472.21" r="3.1"/></g>
<path d="M940.6 379.24H966.2M940.6 375.34V383.14M966.2 375.34V383.14" fill="none" stroke="#B22222" stroke-width="1.05"/>
<path d="M948.00 379.24H953.00" fill="none" stroke="#B22222" stroke-width="2.4" stroke-linecap="round"/>
<g fill="#B22222"><circle cx="950.2" cy="379.24" r="3.1"/></g>
<rect x="847.28" y="290.4" width="243.51999999999998" height="188.05" fill="none" stroke="#000" stroke-width="1.2"/>
<text transform="translate(885.6 501.65) scale(1 1.1)" font-size="11.8" text-anchor="middle">300</text>
<text transform="translate(929.8 501.65) scale(1 1.1)" font-size="11.8" text-anchor="middle">400</text>
<text transform="translate(974.1 501.65) scale(1 1.1)" font-size="11.8" text-anchor="middle">500</text>
<text transform="translate(1018.3 501.65) scale(1 1.1)" font-size="11.8" text-anchor="middle">600</text>
<text transform="translate(1062.6 501.65) scale(1 1.1)" font-size="11.8" text-anchor="middle">700</text>
<path d="M885.6 478.45v7.6M929.8 478.45v7.6M974.1 478.45v7.6M1018.3 478.45v7.6M1062.6 478.45v7.6" fill="none" stroke="#000" stroke-width="1"/>
</svg></body></html>
